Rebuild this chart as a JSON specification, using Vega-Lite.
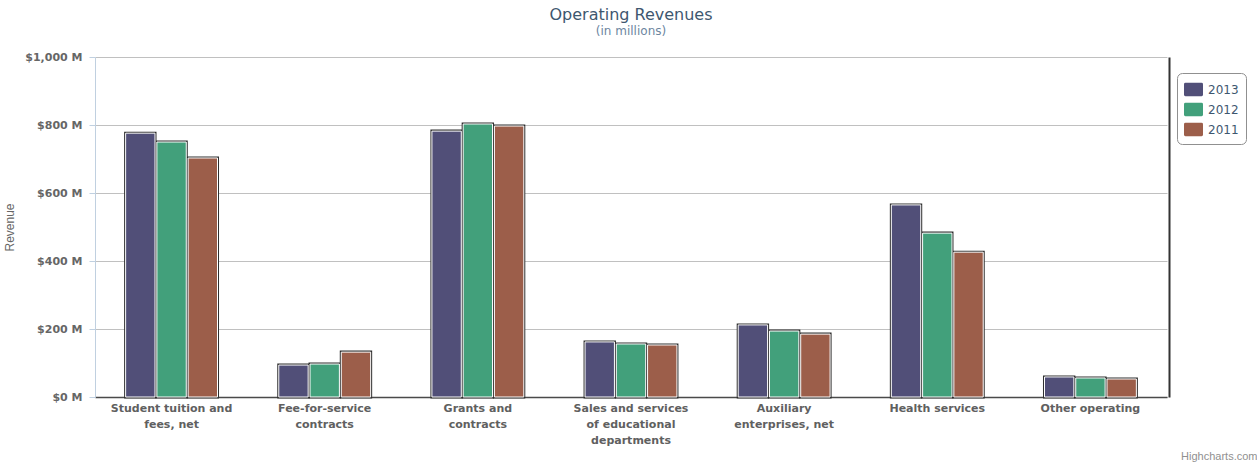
{
  "$schema": "https://vega.github.io/schema/vega-lite/v6.json",
  "width": 1072,
  "height": 340,
  "autosize": {"type": "none"},
  "padding": {"left": 95, "top": 57, "right": 90, "bottom": 66},
  "background": "white",
  "title": {
    "text": "Operating Revenues",
    "subtitle": "(in millions)",
    "anchor": "middle",
    "font": "DejaVu Sans",
    "fontSize": 16,
    "fontWeight": "normal",
    "color": "#3E576F",
    "subtitleFont": "DejaVu Sans",
    "subtitleFontSize": 12,
    "subtitleColor": "#6D869F",
    "subtitlePadding": 3,
    "offset": 14
  },
  "config": {
    "view": {"stroke": null},
    "axis": {"labelFont": "DejaVu Sans", "titleFont": "Liberation Sans"}
  },
  "data": {
    "values": [
      {"category": "Student tuition and fees, net", "year": "2013", "revenue": 776},
      {"category": "Student tuition and fees, net", "year": "2012", "revenue": 750},
      {"category": "Student tuition and fees, net", "year": "2011", "revenue": 703},
      {"category": "Fee-for-service contracts", "year": "2013", "revenue": 94},
      {"category": "Fee-for-service contracts", "year": "2012", "revenue": 97},
      {"category": "Fee-for-service contracts", "year": "2011", "revenue": 132},
      {"category": "Grants and contracts", "year": "2013", "revenue": 782},
      {"category": "Grants and contracts", "year": "2012", "revenue": 803},
      {"category": "Grants and contracts", "year": "2011", "revenue": 797},
      {"category": "Sales and services of educational departments", "year": "2013", "revenue": 162},
      {"category": "Sales and services of educational departments", "year": "2012", "revenue": 156},
      {"category": "Sales and services of educational departments", "year": "2011", "revenue": 153},
      {"category": "Auxiliary enterprises, net", "year": "2013", "revenue": 212},
      {"category": "Auxiliary enterprises, net", "year": "2012", "revenue": 194},
      {"category": "Auxiliary enterprises, net", "year": "2011", "revenue": 185},
      {"category": "Health services", "year": "2013", "revenue": 565},
      {"category": "Health services", "year": "2012", "revenue": 482},
      {"category": "Health services", "year": "2011", "revenue": 426},
      {"category": "Other operating", "year": "2013", "revenue": 59},
      {"category": "Other operating", "year": "2012", "revenue": 56},
      {"category": "Other operating", "year": "2011", "revenue": 53}
    ]
  },
  "encoding": {
    "x": {
      "field": "category",
      "type": "nominal",
      "sort": null,
      "scale": {"paddingInner": 0.4, "paddingOuter": 0.2},
      "axis": {
        "title": "Highcharts.com",
        "titleX": 1162,
        "titleY": 62,
        "titleAlign": "right",
        "titleBaseline": "alphabetic",
        "titleFont": "Liberation Sans",
        "titleFontSize": 11,
        "titleFontWeight": "normal",
        "titleColor": "#909090",
        "labelAngle": 0,
        "labelLimit": 300,
        "labelFontSize": 11,
        "labelFontWeight": "bold",
        "labelColor": "#606060",
        "labelLineHeight": 16,
        "labelPadding": 5,
        "labelBaseline": "top",
        "ticks": false,
        "domainColor": "#4a4a4a",
        "domainWidth": 1.5,
        "labelExpr": "datum.value == 'Student tuition and fees, net' ? ['Student tuition and','fees, net'] : datum.value == 'Fee-for-service contracts' ? ['Fee-for-service','contracts'] : datum.value == 'Grants and contracts' ? ['Grants and','contracts'] : datum.value == 'Sales and services of educational departments' ? ['Sales and services','of educational','departments'] : datum.value == 'Auxiliary enterprises, net' ? ['Auxiliary','enterprises, net'] : datum.value"
      }
    },
    "xOffset": {
      "field": "year",
      "type": "nominal",
      "sort": ["2013", "2012", "2011"],
      "scale": {"paddingInner": 0.06}
    }
  },
  "layer": [
    {
      "mark": {"type": "bar", "fill": "#2e2e2e", "stroke": "#2e2e2e", "strokeWidth": 3},
      "encoding": {
        "y": {
          "field": "revenue",
          "type": "quantitative",
          "scale": {"domain": [0, 1000], "nice": false},
          "axis": {
            "title": "Revenue",
            "titleFontSize": 12,
            "titleFontWeight": "normal",
            "titleColor": "#666666",
            "titlePadding": 8,
            "values": [0, 200, 400, 600, 800, 1000],
            "labelExpr": "'$' + format(datum.value, ',') + ' M'",
            "labelFontSize": 11,
            "labelFontWeight": "bold",
            "labelColor": "#666666",
            "labelPadding": 7,
            "tickSize": 6,
            "tickColor": "#C0D0E0",
            "domainColor": "#C0D0E0",
            "gridColor": "#C0C0C0",
            "grid": true
          }
        }
      }
    },
    {
      "mark": {"type": "bar", "stroke": "white", "strokeWidth": 1},
      "encoding": {
        "y": {
          "field": "revenue",
          "type": "quantitative",
          "scale": {"domain": [0, 1000], "nice": false},
          "axis": {
            "orient": "right",
            "title": null,
            "labels": false,
            "ticks": false,
            "grid": false,
            "domainColor": "#333333",
            "domainWidth": 2,
            "offset": 2
          }
        },
        "color": {
          "field": "year",
          "type": "nominal",
          "sort": ["2013", "2012", "2011"],
          "scale": {"domain": ["2013", "2012", "2011"], "range": ["#514F78", "#42A07B", "#9C5E4A"]},
          "legend": {
            "title": null,
            "orient": "none",
            "legendX": 1082,
            "legendY": 16,
            "fillColor": "white",
            "strokeColor": "#909090",
            "cornerRadius": 5,
            "padding": 7,
            "rowPadding": 3,
            "symbolType": "M -0.85 -0.7 H 0.85 Q 1 -0.7 1 -0.55 V 0.55 Q 1 0.7 0.85 0.7 H -0.85 Q -1 0.7 -1 0.55 V -0.55 Q -1 -0.7 -0.85 -0.7 Z",
            "symbolSize": 361,
            "symbolStrokeWidth": 0,
            "symbolOpacity": 1,
            "labelFont": "DejaVu Sans",
            "labelFontSize": 12,
            "labelColor": "#3E576F",
            "labelOffset": 5,
            "encode": {"legend": {"update": {"strokeWidth": {"value": 2}}}}
          }
        }
      }
    }
  ],
  "resolve": {"scale": {"y": "independent"}}
}
